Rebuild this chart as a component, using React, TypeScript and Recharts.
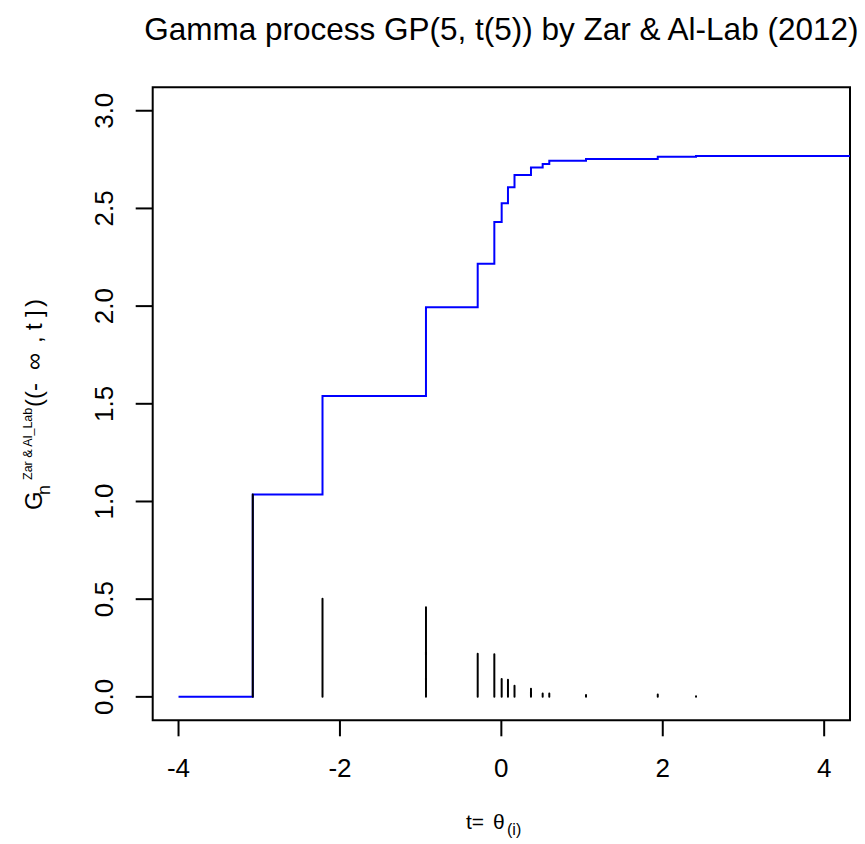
import React from 'react';
import { ComposedChart, Line, XAxis, YAxis, ReferenceArea } from 'recharts';

// Jump locations theta_(i) and jump sizes (vertical spikes)
const jumpX = [-3.08, -2.216, -0.934, -0.293, -0.087, 0.004, 0.082, 0.163, 0.367, 0.512, 0.594, 1.049, 1.938, 2.412];
const jumpHeights = [1.036, 0.502, 0.459, 0.22, 0.218, 0.092, 0.088, 0.057, 0.041, 0.017, 0.017, 0.009, 0.012, 0.003];
// Step function G_n((-inf, t]) levels: value before the first jump, then after each jump
const stepStartX = -4;
const stepEndX = 4.32;
const stepLevels = [0, 1.036, 1.54, 1.994, 2.217, 2.431, 2.526, 2.608, 2.671, 2.71, 2.727, 2.744, 2.753, 2.765, 2.768];

const xTicks = [-4, -2, 0, 2, 4];
const yTicks = [0, 0.5, 1, 1.5, 2, 2.5, 3];
const xDomain: [number, number] = [-4.32, 4.32];
const yDomain: [number, number] = [-0.12, 3.12];

const FONT = '"Liberation Sans", Arial, sans-serif';

const stepData = [
  { x: stepStartX, y: stepLevels[0] },
  ...jumpX.map((x, i) => ({ x, y: stepLevels[i + 1] })),
  { x: stepEndX, y: stepLevels[stepLevels.length - 1] },
];

const spikeData: { x: number; y: number | null }[] = [];
jumpX.forEach((x, i) => {
  spikeData.push({ x, y: 0 });
  spikeData.push({ x, y: jumpHeights[i] });
  spikeData.push({ x, y: null });
});

const YTick = (props: any) => {
  const { x, y, payload } = props;
  return (
    <text
      transform={`translate(${x},${y}) rotate(-90)`}
      textAnchor="middle"
      fontSize={26}
      fontFamily={FONT}
      fill="#000"
    >
      {Number(payload.value).toFixed(1)}
    </text>
  );
};

const XTick = (props: any) => {
  const { x, y, payload } = props;
  return (
    <text x={x} y={y} dy={18.5} textAnchor="middle" fontSize={26} fontFamily={FONT} fill="#000">
      {String(payload.value)}
    </text>
  );
};

const Annotations = () => (
  <g fontFamily={FONT} fill="#000">
    <text x={501.35} y={40} textAnchor="middle" fontSize={31.5}>
      Gamma process GP(5, t(5)) by Zar &amp; Al-Lab (2012)
    </text>
    <text y={829} fontSize={21}>
      <tspan x={466}>t=</tspan>
      <tspan x={493}>θ</tspan>
      <tspan x={507} y={835} fontSize={16}>(i)</tspan>
    </text>
    <text transform="translate(42,510) rotate(-90)" fontSize={24}>
      <tspan x={0} y={0}>G</tspan>
      <tspan x={15} y={8} fontSize={18}>n</tspan>
      <tspan x={30} y={-10} fontSize={12.5}>Zar &amp; Al_Lab</tspan>
      <tspan x={103} y={0}>((-</tspan>
      <tspan x={140} y={0}>∞</tspan>
      <tspan x={167} y={0}>,</tspan>
      <tspan x={180} y={0}>t</tspan>
      <tspan x={193} y={0}>]</tspan>
      <tspan x={203} y={0}>)</tspan>
    </text>
  </g>
);

export default function App() {
  return (
    <div style={{ position: 'absolute', left: 0, top: 0, width: 865, height: 844, background: '#fff' }}>
      <ComposedChart
        width={865}
        height={844}
        margin={{ top: 87.3, right: 15, bottom: 63.7, left: 0 }}
        style={{ fontFamily: FONT }}
      >
        <XAxis
          type="number"
          dataKey="x"
          domain={xDomain}
          ticks={xTicks}
          allowDataOverflow
          height={60}
          axisLine={false}
          tickSize={16}
          tickMargin={22.2}
          tickLine={{ stroke: '#000', strokeWidth: 2 }}
          tick={<XTick />}
          interval={0}
          label={{ content: () => <Annotations /> }}
        />
        <YAxis
          type="number"
          dataKey="y"
          domain={yDomain}
          ticks={yTicks}
          allowDataOverflow
          width={152.7}
          axisLine={false}
          tickSize={17}
          tickMargin={22.4}
          tickLine={{ stroke: '#000', strokeWidth: 2 }}
          tick={<YTick />}
          interval={0}
        />
        <ReferenceArea
          x1={xDomain[0]}
          x2={xDomain[1]}
          y1={yDomain[0]}
          y2={yDomain[1]}
          fill="none"
          fillOpacity={0}
          stroke="#000"
          strokeWidth={2}
          ifOverflow="visible"
        />
        <Line
          data={stepData}
          dataKey="y"
          type="stepAfter"
          stroke="#0000ff"
          strokeWidth={2}
          dot={false}
          activeDot={false}
          isAnimationActive={false}
        />
        <Line
          data={spikeData}
          dataKey="y"
          type="linear"
          stroke="#000"
          strokeWidth={2}
          strokeLinecap="round"
          connectNulls={false}
          dot={false}
          activeDot={false}
          isAnimationActive={false}
        />
      </ComposedChart>
    </div>
  );
}
